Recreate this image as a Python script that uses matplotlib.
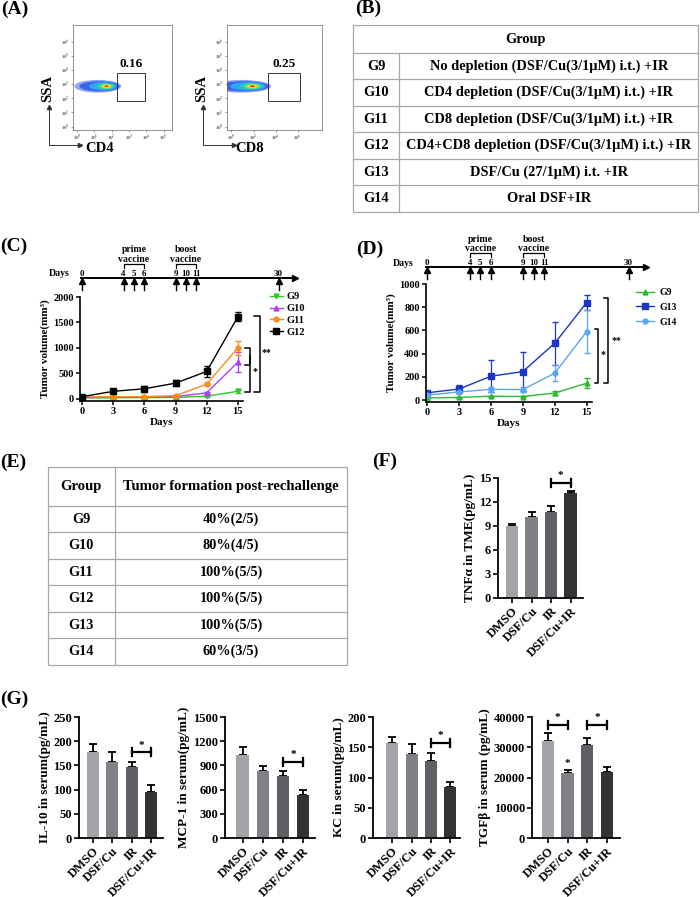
import matplotlib
matplotlib.use("Agg")
import matplotlib.pyplot as plt
from matplotlib.patches import Ellipse, Rectangle

plt.rcParams['font.family'] = ['Liberation Serif', 'DejaVu Serif']
plt.rcParams['font.weight'] = 'bold'
plt.rcParams['axes.labelweight'] = 'bold'
plt.rcParams['mathtext.fontset'] = 'stix'

# ---- data ----
flow_markers = ["CD4", "CD8"]
flow_values = ["0.16", "0.25"]

b_groups = ["G9", "G10", "G11", "G12", "G13", "G14"]
b_desc = ["No depletion (DSF/Cu(3/1\u03bcM) i.t.) +IR",
          "CD4 depletion (DSF/Cu(3/1\u03bcM) i.t.) +IR",
          "CD8 depletion (DSF/Cu(3/1\u03bcM) i.t.) +IR",
          "CD4+CD8 depletion (DSF/Cu(3/1\u03bcM) i.t.) +IR",
          "DSF/Cu (27/1\u03bcM) i.t. +IR",
          "Oral DSF+IR"]

days = [0, 3, 6, 9, 12, 15]
timeline_days = [0, 4, 5, 6, 9, 10, 11, 30]

c_g9 = [20, 22, 28, 30, 55, 150]
c_g9_err = [5, 5, 5, 8, 12, 35]
c_g10 = [30, 32, 35, 45, 120, 720]
c_g10_err = [5, 5, 8, 10, 20, 200]
c_g11 = [40, 42, 45, 65, 290, 1000]
c_g11_err = [5, 5, 8, 10, 20, 130]
c_g12 = [45, 150, 200, 310, 540, 1610]
c_g12_err = [10, 20, 60, 60, 100, 90]

d_g9 = [18, 22, 33, 30, 60, 145]
d_g9_err = [3, 3, 5, 5, 15, 45]
d_g13 = [62, 95, 205, 245, 490, 840]
d_g13_err = [10, 35, 140, 165, 185, 65]
d_g14 = [42, 70, 92, 90, 232, 590]
d_g14_err = [8, 12, 22, 22, 70, 185]

e_groups = ["G9", "G10", "G11", "G12", "G13", "G14"]
e_rates = ["40%(2/5)", "80%(4/5)", "100%(5/5)", "100%(5/5)", "100%(5/5)", "60%(3/5)"]

treatments = ["DMSO", "DSF/Cu", "IR", "DSF/Cu+IR"]
bar_colors = ['#a3a3aa', '#808086', '#5f5f65', '#333336']

tnf = [9.0, 10.1, 10.75, 13.15]
tnf_err = [0.2, 0.6, 0.75, 0.2]
il10 = [177, 157, 146, 95]
il10_err = [18, 20, 11, 15]
mcp1 = [1025, 825, 770, 530]
mcp1_err = [105, 70, 55, 70]
kc = [157, 139, 127, 84]
kc_err = [10, 17, 14, 9]
tgfb = [32200, 21600, 30800, 21800]
tgfb_err = [2400, 1000, 2400, 1600]

W, H = 700, 897
fig = plt.figure(figsize=(7, 8.97), dpi=100)


def box(x0, y0, x1, y1):
    return fig.add_axes([x0 / W, 1 - y1 / H, (x1 - x0) / W, (y1 - y0) / H])


ov = box(0, 0, W, H)
ov.set_xlim(0, W)
ov.set_ylim(H, 0)
ov.axis('off')

for lab, x, y in [("(A)", 1, 1), ("(B)", 355, 0), ("(C)", 0, 238), ("(D)", 356, 241),
                  ("(E)", 0, 454), ("(F)", 372, 453), ("(G)", 0, 691)]:
    ov.text(x, y, lab, fontsize=14, fontweight='bold', va='top', ha='left')

# ---- (A) flow plots ----
flow_boxes = [(73, 25, 172, 130), (227, 25, 322, 130)]
flow_xlims = [(-0.23, 5.48), (-0.2, 4.1)]
flow_xticks = [[0, 1, 2, 3, 4, 5], [0, 1, 2, 3]]
flow_xtlabels = [[r'$10^{%d}$' % i for i in range(6)],
                 [r'$10^{%d}$' % i for i in (0, 2, 4, 6)]]
blob_centers = [1.7, 0.95]
gates = [(2.33, 1.8, 3.9, 3.76), (1.66, 1.8, 3.1, 3.76)]
for i in range(2):
    ax = box(*flow_boxes[i])
    ax.set_xlim(*flow_xlims[i])
    ax.set_ylim(-0.24, 7.18)
    ax.set_xticks(flow_xticks[i])
    ax.set_xticklabels(flow_xtlabels[i])
    ax.set_yticks(range(7))
    ax.set_yticklabels([r'$10^{%d}$' % k for k in range(7)])
    ax.tick_params(labelsize=3.5, length=1.5, width=0.4, pad=1, colors='#555555')
    for s in ax.spines.values():
        s.set_linewidth(0.5)
        s.set_color('#666666')
    cx = blob_centers[i]
    layers = [(cx - 0.5, 2.7, 0.9, '#8fa6f5'), (cx - 0.4, 2.3, 0.72, '#3f62ee'),
              (cx - 0.2, 1.6, 0.58, '#2aa8f0'), (cx - 0.05, 1.05, 0.45, '#20d0c0'),
              (cx, 0.72, 0.34, '#8fe040'), (cx, 0.45, 0.23, '#f0e020'),
              (cx, 0.22, 0.13, '#f03010')]
    for (ex, ew, eh, col) in layers:
        ax.add_patch(Ellipse((ex, 2.85), ew, eh, color=col, lw=0))
    gx0, gy0, gx1, gy1 = gates[i]
    ax.add_patch(Rectangle((gx0, gy0), gx1 - gx0, gy1 - gy0, fill=False, lw=0.7, ec='#333333'))
    ax.text((gx0 + gx1) / 2, 4.45, flow_values[i], ha='center', va='center', fontsize=9.5)

for i, (ax_x, lab_x) in enumerate([(49, 100), (203, 250)]):
    ov.plot([ax_x, ax_x, ax_x + 30], [109, 145.5, 145.5], color='#333333', lw=0.7)
    ov.plot([ax_x], [107], marker='^', ms=3, color='#333333')
    ov.plot([ax_x + 31], [145.5], marker='>', ms=3, color='#333333')
    ov.text(ax_x - 1, 88, "SSA", rotation=90, ha='center', va='center', fontsize=10.5)
    ov.text(lab_x, 148, flow_markers[i], ha='center', va='center', fontsize=10.5)

# ---- (B) table ----
tcol = '#a8a8a8'
bx0, bx1, by0, bhead, brow = 353, 698, 25, 28, 26.5
by1 = by0 + bhead + brow * len(b_groups)
ov.add_patch(Rectangle((bx0, by0), bx1 - bx0, by1 - by0, fill=False, ec=tcol, lw=0.9))
ov.plot([399, 399], [by0 + bhead, by1], color=tcol, lw=0.9)
ov.text((bx0 + bx1) / 2, by0 + bhead / 2, "Group", ha='center', va='center', fontsize=10.4)
for i, (g, d) in enumerate(zip(b_groups, b_desc)):
    top = by0 + bhead + i * brow
    ov.plot([bx0, bx1], [top, top], color=tcol, lw=0.9)
    ov.text(376, top + brow / 2, g, ha='center', va='center', fontsize=10.4)
    ov.text(549, top + brow / 2, d, ha='center', va='center', fontsize=10.4)

# ---- (E) table ----
ex0, ex1, ey0, ehead, erow = 48, 347, 467, 39, 26.5
ey1 = ey0 + ehead + erow * len(e_groups)
ov.add_patch(Rectangle((ex0, ey0), ex1 - ex0, ey1 - ey0, fill=False, ec=tcol, lw=0.9))
ov.plot([115, 115], [ey0, ey1], color=tcol, lw=0.9)
ov.text(81, ey0 + ehead / 2, "Group", ha='center', va='center', fontsize=10.6)
ov.text(231, ey0 + ehead / 2, "Tumor formation post-rechallenge", ha='center', va='center',
        fontsize=10.6)
for i, (g, r) in enumerate(zip(e_groups, e_rates)):
    top = ey0 + ehead + i * erow
    ov.plot([ex0, ex1], [top, top], color=tcol, lw=0.9)
    ov.text(81, top + erow / 2, g, ha='center', va='center', fontsize=10.3)
    ov.text(231, top + erow / 2, r, ha='center', va='center', fontsize=10.3)


# ---- timelines ----
def timeline(x0, x1, ytop, ybot, origin, ppd, ly):
    ax = box(x0, ytop, x1, ybot)
    ax.set_xlim((x0 - origin) / ppd, (x1 - origin) / ppd)
    ax.set_ylim(ybot, ytop)
    ax.axis('off')
    pos = [d if d <= 15 else 18.9 for d in timeline_days]
    ax.plot([-0.1, 20.3], [ly, ly], color='k', lw=1.4, clip_on=False)
    ax.plot([20.5], [ly], marker='>', ms=5, color='k', clip_on=False)
    ax.text(-2.2, ly - 4, "Days", ha='center', va='center', fontsize=7)
    for d, p in zip(timeline_days, pos):
        ax.text(p, ly - 4.5, str(d), ha='center', va='center', fontsize=6.5)
        ax.plot([p, p], [ly + 4, ly + 12], color='k', lw=1.0, clip_on=False)
        ax.plot([p], [ly + 3.5], marker='^', ms=4, color='k', clip_on=False)
    for (a, b, w1) in [(4, 6, "prime"), (9, 11, "boost")]:
        ax.plot([a, a, b, b], [ly - 10, ly - 14, ly - 14, ly - 10], color='k', lw=0.9)
        ax.text((a + b) / 2, ly - 19, "vaccine", ha='center', va='center', fontsize=7)
        ax.text((a + b) / 2, ly - 28, w1, ha='center', va='center', fontsize=7)


timeline(40, 305, 236, 293, 82, 10.4, 278)
timeline(395, 655, 225, 282, 427, 10.67, 267)


def style_line_axes(ax):
    for s in ['top', 'right']:
        ax.spines[s].set_visible(False)
    for s in ['left', 'bottom']:
        ax.spines[s].set_linewidth(1.2)
    ax.tick_params(labelsize=7.5, length=3, width=1.1, pad=1.5)


# ---- (C) ----
axc = box(80, 297, 243, 401)
axc.set_xlim(-0.2, 15.5)
axc.set_ylim(-40, 2000)
c_series = [(c_g9, c_g9_err, '#2ec82e', 'v', 'G9'), (c_g10, c_g10_err, '#b040f0', '^', 'G10'),
            (c_g11, c_g11_err, '#ff8a1c', 'o', 'G11'), (c_g12, c_g12_err, '#000000', 's', 'G12')]
handles = []
for vals, errs, col, mk, lab in c_series:
    axc.errorbar(days, vals, yerr=errs, fmt='none', ecolor=col, elinewidth=0.9, capsize=2)
    h, = axc.plot(days, vals, color=col, marker=mk, ms=4.5 if mk == 's' else 3.5, lw=1.0, label=lab)
    handles.append(h)
axc.set_xticks(days)
axc.set_yticks([0, 500, 1000, 1500, 2000])
axc.set_xlabel("Days", fontsize=8, labelpad=1)
axc.set_ylabel("Tumor volume(mm\u00b3)", fontsize=8, labelpad=2)
style_line_axes(axc)
fig.legend(handles=handles, loc='upper left', bbox_to_anchor=(270 / W, 1 - 292 / H), frameon=False,
           fontsize=7.5, handlelength=1.2, handletextpad=0.4, labelspacing=0.25, borderpad=0,
           borderaxespad=0)
k = dict(color='k', lw=1.1, clip_on=False)
axc.plot([15.65, 16.15, 16.15, 15.65], [1000, 1000, 667, 667], **k)
axc.plot([16.15, 16.15, 15.65], [833, 137, 137], **k)
axc.plot([16.6, 17.1, 17.1, 16.6], [1627, 1627, 137, 137], **k)
axc.text(16.7, 530, "*", fontsize=7, ha='center', va='center')
axc.text(17.8, 920, "**", fontsize=7, ha='center', va='center')

# ---- (D) ----
axd = box(426, 284, 592, 402)
axd.set_xlim(-0.1, 15.5)
axd.set_ylim(-17, 1000)
d_series = [(d_g9, d_g9_err, '#2db82d', '^', 'G9'), (d_g13, d_g13_err, '#1c34c8', 's', 'G13'),
            (d_g14, d_g14_err, '#5aa6f2', 'o', 'G14')]
handles = []
for vals, errs, col, mk, lab in d_series:
    axd.errorbar(days, vals, yerr=errs, fmt='none', ecolor=col, elinewidth=0.9, capsize=2)
    h, = axd.plot(days, vals, color=col, marker=mk, ms=4 if mk == 's' else 3.5, lw=1.0, label=lab)
    handles.append(h)
axd.set_xticks(days)
axd.set_yticks([0, 200, 400, 600, 800, 1000])
axd.set_xlabel("Days", fontsize=8, labelpad=1)
axd.set_ylabel("Tumor volume(mm\u00b3)", fontsize=8, labelpad=2)
style_line_axes(axd)
fig.legend(handles=handles, loc='upper left', bbox_to_anchor=(636 / W, 1 - 288 / H), frameon=False,
           fontsize=7, handlelength=1.8, handletextpad=0.6, labelspacing=0.6, borderpad=0,
           borderaxespad=0)
axd.plot([15.75, 16.03, 16.03, 15.75], [612, 612, 147, 147], **k)
axd.plot([16.6, 16.96, 16.96, 16.6], [879, 879, 147, 147], **k)
axd.text(16.5, 388, "*", fontsize=7, ha='center', va='center')
axd.text(17.8, 517, "**", fontsize=7, ha='center', va='center')


# ---- bar charts ----
def bar_panel(rect, xlim, vals, errs, ymax, yticks, ylabel, sigs, extra_star=None):
    ax = box(*rect)
    x = list(range(len(treatments)))
    ax.bar(x, vals, width=0.62, color=bar_colors, zorder=2)
    ax.errorbar(x, vals, yerr=[[0] * len(errs), errs], fmt='none', ecolor='k',
                elinewidth=1.3, capsize=3, capthick=1.3, zorder=1)
    ax.set_xlim(*xlim)
    ax.set_ylim(0, ymax)
    ax.set_yticks(yticks)
    ax.set_xticks(x)
    ax.set_xticklabels(treatments, rotation=45, ha='right', rotation_mode='anchor')
    for s in ['top', 'right']:
        ax.spines[s].set_visible(False)
    for s in ['left', 'bottom']:
        ax.spines[s].set_linewidth(1.3)
    ax.tick_params(labelsize=9, length=3.5, width=1.2, pad=1.5)
    ax.set_ylabel(ylabel, fontsize=9.5, labelpad=2)
    cap = ymax * 0.033
    for (a, b, yl) in sigs:
        ax.plot([a, b], [yl, yl], color='k', lw=1.6, clip_on=False)
        for xe in (a, b):
            ax.plot([xe, xe], [yl - cap, yl + cap], color='k', lw=1.6, clip_on=False)
        ax.text((a + b) / 2, yl + ymax * 0.06, "*", ha='center', va='center', fontsize=8, clip_on=False)
    if extra_star is not None:
        ax.text(extra_star[0], extra_star[1], "*", ha='center', va='center', fontsize=8)
    return ax


bar_panel((498, 478, 583, 598), (-0.72, 3.64), tnf, tnf_err, 15, [0, 3, 6, 9, 12, 15],
          "TNF\u03b1 in TME(pg/mL)", [(2, 3, 14.4)])
bar_panel((79, 717, 163, 838), (-0.7, 3.6), il10, il10_err, 250, [0, 50, 100, 150, 200, 250],
          "IL-10 in serum(pg/mL)", [(2, 3, 177)])
bar_panel((225, 717, 315, 838), (-0.88, 3.6), mcp1, mcp1_err, 1500, [0, 300, 600, 900, 1200, 1500],
          "MCP-1 in serum(pg/mL)", [(2, 3, 940)])
bar_panel((373, 717, 460, 838), (-0.99, 3.5), kc, kc_err, 200, [0, 50, 100, 150, 200],
          "KC in serum(pg/mL)", [(2, 3, 157)])
bar_panel((532, 717, 620, 838), (-0.8, 3.66), tgfb, tgfb_err, 40000, [0, 10000, 20000, 30000, 40000],
          "TGF\u03b2 in serum (pg/mL)", [(0, 1, 37300), (2, 3, 37300)], extra_star=(1, 24500))

fig.savefig("out.png", dpi=100)
